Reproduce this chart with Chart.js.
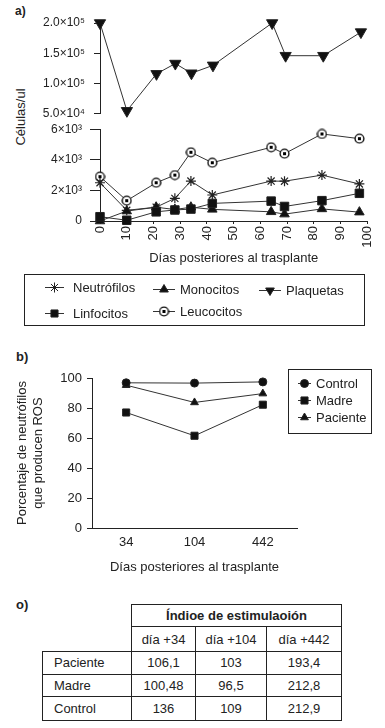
<!DOCTYPE html>
<html>
<head>
<meta charset="utf-8">
<script src="https://cdn.jsdelivr.net/npm/chart.js@4.4.1/dist/chart.umd.min.js"></script>
<style>
  html, body { margin: 0; padding: 0; background: #fff; }
  body { width: 385px; height: 728px; position: relative; overflow: hidden;
         font-family: "Liberation Sans", Arial, sans-serif; color: #222; }
  canvas { position: absolute; left: 0; }
  .lbl { position: absolute; font-weight: bold; font-size: 13px; }
  #ytitleA { position: absolute; left: 20px; top: 117px; font-size: 13px;
             transform: translate(-50%, -50%) rotate(-90deg); white-space: nowrap; }
  .legend { position: absolute; border: 1px solid #222; box-sizing: border-box; font-size: 13px; }
  .legend .item { position: absolute; display: flex; align-items: center; white-space: nowrap; }
  .legend canvas { position: static; }
  table { position: absolute; left: 42px; top: 604px; border-collapse: collapse;
          table-layout: fixed; font-size: 13px; }
  td { border: 1.5px solid #222; text-align: center; padding: 0; }
  td.name { text-align: left; padding-left: 11px; }
  td.blank { border: none; }
</style>
</head>
<body>
<div class="lbl" style="left:15px;top:4px;font-size:12px">a)</div>
<div id="ytitleA">Células/ul</div>
<canvas id="chartTop" width="385" height="130" style="top:0"></canvas>
<canvas id="chartBot" width="385" height="154" style="top:114px"></canvas>
<div id="legendA" class="legend" style="left:24px;top:274px;width:341px;height:52px"></div>

<div class="lbl" style="left:16px;top:349px">b)</div>
<canvas id="chartRos" width="385" height="240" style="top:340px"></canvas>
<div id="legendB" class="legend" style="left:288px;top:369px;width:84px;height:65px"></div>

<div class="lbl" style="left:16px;top:597px">o)</div>
<table id="tabla"></table>

<script>
// ---- panel a: recuentos celulares ----
const dias        = [0, 10, 21, 28, 34, 42, 64, 69, 83, 97];
const neutrofilos = [2500, 700, 900, 1480, 2610, 1700, 2610, 2600, 3000, 2420];
const monocitos   = [0, 650, 900, 750, 900, 760, 600, 450, 790, 580];
const linfocitos  = [280, 50, 600, 720, 780, 1150, 1300, 950, 1330, 1810];
const leucocitos  = [2900, 1330, 2500, 3000, 4490, 3810, 4820, 4400, 5690, 5380];
const plaquetas   = [200000, 55000, 116000, 133000, 117000, 130000, 200000, 146000, 146000, 185000];

const topTickValues = [50000, 100000, 150000, 200000];
const topTickLabels = ['5.0×10⁴', '1.0×10⁵', '1.5×10⁵', '2.0×10⁵'];
const botTickValues = [0, 2000, 4000, 6000];
const botTickLabels = ['0', '2×10³', '4×10³', '6×10³'];

// ---- panel b: % neutrofilos que producen ROS ----
const rosDias   = ['34', '104', '442'];
const control   = [96.8, 96.6, 97.4];
const madre     = [77, 61.5, 82.2];
const paciente  = [95.2, 83.7, 89.6];

// ---- panel c: tabla ----
const tablaTitulo = 'Índioe de estimulaoión';
const tablaCols   = ['día +34', 'día +104', 'día +442'];
const tablaFilas  = ['Paciente', 'Madre', 'Control'];
const tablaPac    = ['106,1', '103', '193,4'];
const tablaMad    = ['100,48', '96,5', '212,8'];
const tablaCon    = ['136', '109', '212,9'];

const INK = '#222';
const LINE = '#333';
const FONT = 'Liberation Sans';
Chart.defaults.font.family = FONT;
Chart.defaults.color = INK;

// circulo con punto (leucocitos)
const leucoImg = document.createElement('canvas');
leucoImg.width = 11; leucoImg.height = 11;
(() => {
  const c = leucoImg.getContext('2d');
  c.fillStyle = '#fff'; c.strokeStyle = '#111'; c.lineWidth = 1.4;
  c.beginPath(); c.arc(5.5, 5.5, 4.4, 0, Math.PI * 2); c.fill(); c.stroke();
  c.fillStyle = '#000';
  c.fillRect(4, 4, 3, 3);
})();

const pts = (ys) => dias.map((d, i) => ({ x: d, y: ys[i] }));
const serie = (label, data, extra) => Object.assign({
  label, data, borderColor: LINE, borderWidth: 1, backgroundColor: '#111',
  pointBackgroundColor: '#111', pointBorderColor: INK, pointBorderWidth: 1,
  pointRadius: 5, clip: false, tension: 0
}, extra);

const setA = {
  neutro: serie('Neutrófilos', pts(neutrofilos), { pointStyle: 'star', pointRadius: 5, pointBorderWidth: 1.2 }),
  mono:   serie('Monocitos', pts(monocitos), { pointStyle: 'triangle', pointRadius: 5.5 }),
  plaq:   serie('Plaquetas', pts(plaquetas), { pointStyle: 'triangle', pointRotation: 180, pointRadius: 6.5 }),
  linfo:  serie('Linfocitos', pts(linfocitos), { pointStyle: 'rect', pointRadius: 6 }),
  leuco:  serie('Leucocitos', pts(leucocitos), { pointStyle: leucoImg })
};

// eje y con marcas fijas (la etiqueta sale de la lista)
const yAxis = (values, labels, tickLen, pad, extra) => Object.assign({
  afterFit: s => { s.width = 100; },
  afterBuildTicks: s => { s.ticks = values.map(v => ({ value: v })); },
  ticks: { font: { size: 12 }, color: INK, padding: pad,
           callback: v => labels[values.indexOf(v)] },
  grid: { drawOnChartArea: false, color: INK, tickLength: tickLen },
  border: { color: INK, width: 1 }
}, extra);

// parte superior del eje cortado: plaquetas
new Chart(document.getElementById('chartTop'), {
  type: 'line',
  data: { datasets: [setA.plaq] },
  options: {
    responsive: false, animation: false,
    layout: { padding: { top: 23, right: 16, bottom: 0, left: 0 } },
    plugins: { legend: { display: false }, tooltip: { enabled: false } },
    scales: {
      x: { type: 'linear', min: 0, max: 100, display: false },
      y: yAxis(topTickValues, topTickLabels, 6, 9, { min: 50000, max: 200000 })
    }
  }
});

// parte inferior: el resto de las celulas
new Chart(document.getElementById('chartBot'), {
  type: 'line',
  data: { datasets: [setA.linfo, setA.mono, setA.neutro, setA.leuco] },
  options: {
    responsive: false, animation: false,
    layout: { padding: { top: 0, right: 16, bottom: 0, left: 0 } },
    plugins: { legend: { display: false }, tooltip: { enabled: false } },
    scales: {
      x: {
        type: 'linear', min: 0, max: 100,
        afterFit: s => { s.height = 47; },
        ticks: { stepSize: 10, autoSkip: false, minRotation: 90, maxRotation: 90,
                 font: { size: 13 }, color: INK, padding: 2 },
        grid: { drawOnChartArea: false, color: INK, tickLength: 3 },
        border: { color: INK, width: 1 },
        title: { display: true, text: 'Días posteriores al trasplante',
                 font: { size: 13 }, color: INK, padding: { top: 0, bottom: 2 } }
      },
      y: yAxis(botTickValues, botTickLabels, 10, 8, { min: 0, max: 6000 })
    }
  }
});

// ---- panel b ----
const setB = {
  control:  serie('Control', control, { pointStyle: 'circle', pointRadius: 4 }),
  madre:    serie('Madre', madre, { pointStyle: 'rect', pointRadius: 5 }),
  paciente: serie('Paciente', paciente, { pointStyle: 'triangle', pointRadius: 4.5 })
};

new Chart(document.getElementById('chartRos'), {
  type: 'line',
  data: { labels: rosDias, datasets: [setB.control, setB.madre, setB.paciente] },
  options: {
    responsive: false, animation: false,
    layout: { padding: { top: 38, right: 88, bottom: 0, left: 0 } },
    plugins: { legend: { display: false }, tooltip: { enabled: false } },
    scales: {
      x: {
        offset: true,
        afterFit: s => { s.height = 52; },
        ticks: { font: { size: 13 }, color: INK, padding: 7 },
        grid: { drawOnChartArea: false, drawTicks: false, color: INK },
        border: { color: INK, width: 1 },
        title: { display: true, text: 'Días posteriores al trasplante',
                 font: { size: 13 }, color: INK, padding: { top: 0, bottom: 5 } }
      },
      y: {
        min: 0, max: 100,
        afterFit: s => { s.width = 92; },
        ticks: { stepSize: 20, font: { size: 13 }, color: INK, padding: 5 },
        grid: { drawOnChartArea: false, color: INK, tickLength: 5 },
        border: { color: INK, width: 1 },
        title: { display: true, text: ['Porcentaje de neutrófilos', 'que producen ROS'],
                 font: { size: 13, lineHeight: 1.3 }, color: INK,
                 padding: { top: 13.5, bottom: 0 } }
      }
    }
  }
});

// ---- leyendas html ----
function icono(ds, w) {
  const c = document.createElement('canvas');
  c.width = w; c.height = 14;
  const g = c.getContext('2d');
  g.strokeStyle = LINE; g.lineWidth = 1;
  g.beginPath(); g.moveTo(0, 7.5); g.lineTo(w, 7.5); g.stroke();
  g.fillStyle = ds.pointBackgroundColor; g.strokeStyle = ds.pointBorderColor;
  Chart.helpers.drawPoint(g, {
    pointStyle: ds.pointStyle, rotation: ds.pointRotation || 0,
    radius: Math.min(ds.pointRadius, 5), borderWidth: ds.pointBorderWidth
  }, w / 2, 7.5);
  return c;
}

function leyenda(el, items) {
  items.forEach(([ds, left, top, w, gap]) => {
    const it = document.createElement('div');
    it.className = 'item';
    it.style.left = left + 'px';
    it.style.top = (top - 7) + 'px';
    it.style.height = '14px';
    const ic = icono(ds, w);
    ic.style.marginRight = gap + 'px';
    it.appendChild(ic);
    it.appendChild(document.createTextNode(ds.label));
    el.appendChild(it);
  });
}

leyenda(document.getElementById('legendA'), [
  [setA.neutro, 20, 12, 19, 9],
  [setA.mono, 128, 14, 22, 5],
  [setA.plaq, 234, 15, 22, 5],
  [setA.linfo, 20, 38, 19, 9],
  [setA.leuco, 128, 36, 22, 5]
]);

leyenda(document.getElementById('legendB'), [
  [setB.control, 9, 13, 13, 5],
  [setB.madre, 9, 30, 13, 5],
  [setB.paciente, 9, 47, 13, 5]
]);

// ---- tabla ----
(() => {
  const t = document.getElementById('tabla');
  const widths = [89, 64, 71, 75];
  let html = '<colgroup>' + widths.map(w => `<col style="width:${w}px">`).join('') + '</colgroup>';
  html += `<tr style="height:22px"><td class="blank" rowspan="2"></td><td colspan="3"><b>${tablaTitulo}</b></td></tr>`;
  html += '<tr style="height:25px">' + tablaCols.map(c => `<td>${c}</td>`).join('') + '</tr>';
  const vals = [tablaPac, tablaMad, tablaCon];
  const hs = [22.5, 22.5, 24];
  tablaFilas.forEach((f, i) => {
    html += `<tr style="height:${hs[i]}px"><td class="name">${f}</td>` +
      vals[i].map(v => `<td>${v}</td>`).join('') + '</tr>';
  });
  t.innerHTML = html;
})();
</script>
</body>
</html>
